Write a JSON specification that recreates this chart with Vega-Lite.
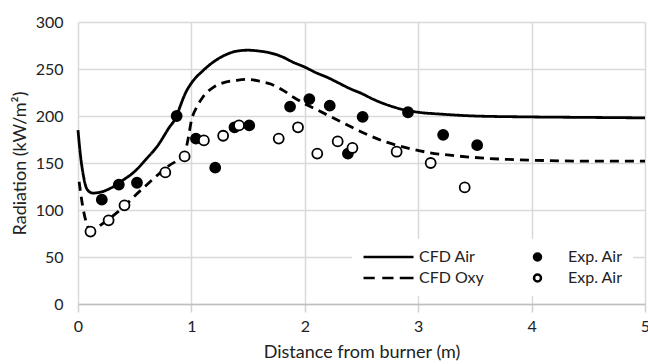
{
  "$schema": "https://vega.github.io/schema/vega-lite/v6.json",
  "width": 567,
  "height": 282,
  "autosize": {"type": "none"},
  "padding": {"left": 78, "top": 22, "right": 3, "bottom": 60},
  "background": "white",
  "config": {
    "view": {"stroke": null},
    "font": "Lato",
    "axis": {"labelFont": "Lato", "titleFont": "Lato", "labelFontSize": 16, "titleFontSize": 18, "labelColor": "#222", "titleColor": "#222", "titleFontWeight": "normal", "gridColor": "#d9d9d9", "gridWidth": 1.5, "domainColor": "#bfbfbf", "domainWidth": 1.5, "tickColor": "#d0d0d0", "tickWidth": 1.5},
    "legend": {"title": null, "orient": "none", "legendX": 274, "legendY": 217, "columns": 2, "clipHeight": 16, "symbolSize": 2500, "symbolStrokeColor": "black", "symbolStrokeWidth": 2.5, "labelOffset": 4, "labelFont": "Lato", "labelFontSize": 16, "labelColor": "#222", "columnPadding": 27, "rowPadding": 5, "padding": 10, "fillColor": "white"}
  },
  "datasets": {
    "cfd": [
      {"series": "CFD Air", "x": 0.0, "y": 185},
      {"series": "CFD Air", "x": 0.02, "y": 160},
      {"series": "CFD Air", "x": 0.05, "y": 135},
      {"series": "CFD Air", "x": 0.08, "y": 122},
      {"series": "CFD Air", "x": 0.13, "y": 118},
      {"series": "CFD Air", "x": 0.2, "y": 119},
      {"series": "CFD Air", "x": 0.3, "y": 124},
      {"series": "CFD Air", "x": 0.4, "y": 132},
      {"series": "CFD Air", "x": 0.5, "y": 141},
      {"series": "CFD Air", "x": 0.6, "y": 154},
      {"series": "CFD Air", "x": 0.7, "y": 168},
      {"series": "CFD Air", "x": 0.8, "y": 187},
      {"series": "CFD Air", "x": 0.87, "y": 200},
      {"series": "CFD Air", "x": 0.9, "y": 210},
      {"series": "CFD Air", "x": 0.95, "y": 225},
      {"series": "CFD Air", "x": 1.0, "y": 235},
      {"series": "CFD Air", "x": 1.1, "y": 248},
      {"series": "CFD Air", "x": 1.2, "y": 258},
      {"series": "CFD Air", "x": 1.3, "y": 265},
      {"series": "CFD Air", "x": 1.4, "y": 269},
      {"series": "CFD Air", "x": 1.5, "y": 270},
      {"series": "CFD Air", "x": 1.6, "y": 269},
      {"series": "CFD Air", "x": 1.7, "y": 267},
      {"series": "CFD Air", "x": 1.8, "y": 263},
      {"series": "CFD Air", "x": 1.9, "y": 257},
      {"series": "CFD Air", "x": 2.0, "y": 252},
      {"series": "CFD Air", "x": 2.1, "y": 246},
      {"series": "CFD Air", "x": 2.2, "y": 241},
      {"series": "CFD Air", "x": 2.3, "y": 235},
      {"series": "CFD Air", "x": 2.4, "y": 229},
      {"series": "CFD Air", "x": 2.5, "y": 224},
      {"series": "CFD Air", "x": 2.6, "y": 218},
      {"series": "CFD Air", "x": 2.7, "y": 213},
      {"series": "CFD Air", "x": 2.8, "y": 209},
      {"series": "CFD Air", "x": 2.9, "y": 206},
      {"series": "CFD Air", "x": 3.0, "y": 204},
      {"series": "CFD Air", "x": 3.2, "y": 202},
      {"series": "CFD Air", "x": 3.5, "y": 200},
      {"series": "CFD Air", "x": 4.0, "y": 199},
      {"series": "CFD Air", "x": 4.5, "y": 198.5},
      {"series": "CFD Air", "x": 5.0, "y": 198},
      {"series": "CFD Oxy", "x": 0.01, "y": 130},
      {"series": "CFD Oxy", "x": 0.04, "y": 105},
      {"series": "CFD Oxy", "x": 0.07, "y": 88},
      {"series": "CFD Oxy", "x": 0.1, "y": 80},
      {"series": "CFD Oxy", "x": 0.15, "y": 80},
      {"series": "CFD Oxy", "x": 0.2, "y": 84},
      {"series": "CFD Oxy", "x": 0.3, "y": 93},
      {"series": "CFD Oxy", "x": 0.4, "y": 103},
      {"series": "CFD Oxy", "x": 0.5, "y": 115},
      {"series": "CFD Oxy", "x": 0.6, "y": 126},
      {"series": "CFD Oxy", "x": 0.7, "y": 137},
      {"series": "CFD Oxy", "x": 0.8, "y": 147},
      {"series": "CFD Oxy", "x": 0.9, "y": 155},
      {"series": "CFD Oxy", "x": 0.94, "y": 160},
      {"series": "CFD Oxy", "x": 0.97, "y": 175},
      {"series": "CFD Oxy", "x": 1.0, "y": 195},
      {"series": "CFD Oxy", "x": 1.05, "y": 210},
      {"series": "CFD Oxy", "x": 1.1, "y": 220},
      {"series": "CFD Oxy", "x": 1.2, "y": 231},
      {"series": "CFD Oxy", "x": 1.3, "y": 236},
      {"series": "CFD Oxy", "x": 1.4, "y": 238},
      {"series": "CFD Oxy", "x": 1.5, "y": 239},
      {"series": "CFD Oxy", "x": 1.6, "y": 237},
      {"series": "CFD Oxy", "x": 1.7, "y": 234},
      {"series": "CFD Oxy", "x": 1.8, "y": 228},
      {"series": "CFD Oxy", "x": 1.9, "y": 220},
      {"series": "CFD Oxy", "x": 2.0, "y": 213},
      {"series": "CFD Oxy", "x": 2.1, "y": 207},
      {"series": "CFD Oxy", "x": 2.2, "y": 201},
      {"series": "CFD Oxy", "x": 2.3, "y": 195},
      {"series": "CFD Oxy", "x": 2.5, "y": 183},
      {"series": "CFD Oxy", "x": 2.7, "y": 173},
      {"series": "CFD Oxy", "x": 2.9, "y": 166},
      {"series": "CFD Oxy", "x": 3.1, "y": 161},
      {"series": "CFD Oxy", "x": 3.3, "y": 158},
      {"series": "CFD Oxy", "x": 3.6, "y": 155},
      {"series": "CFD Oxy", "x": 4.0, "y": 153},
      {"series": "CFD Oxy", "x": 4.5, "y": 152},
      {"series": "CFD Oxy", "x": 5.0, "y": 152}
    ],
    "exp": [
      {"series": "Exp. Air", "x": 0.21, "y": 111},
      {"series": "Exp. Air", "x": 0.36, "y": 127},
      {"series": "Exp. Air", "x": 0.52, "y": 129},
      {"series": "Exp. Air", "x": 0.87, "y": 200},
      {"series": "Exp. Air", "x": 1.04, "y": 176},
      {"series": "Exp. Air", "x": 1.21, "y": 145},
      {"series": "Exp. Air", "x": 1.38, "y": 188},
      {"series": "Exp. Air", "x": 1.51, "y": 190},
      {"series": "Exp. Air", "x": 1.87, "y": 210},
      {"series": "Exp. Air", "x": 2.04, "y": 218},
      {"series": "Exp. Air", "x": 2.22, "y": 211},
      {"series": "Exp. Air", "x": 2.38, "y": 160},
      {"series": "Exp. Air", "x": 2.51, "y": 199},
      {"series": "Exp. Air", "x": 2.91, "y": 204},
      {"series": "Exp. Air", "x": 3.22, "y": 180},
      {"series": "Exp. Air", "x": 3.52, "y": 169},
      {"series": "Exp. Oxy", "x": 0.11, "y": 77},
      {"series": "Exp. Oxy", "x": 0.27, "y": 89},
      {"series": "Exp. Oxy", "x": 0.41, "y": 105},
      {"series": "Exp. Oxy", "x": 0.77, "y": 140},
      {"series": "Exp. Oxy", "x": 0.94, "y": 157},
      {"series": "Exp. Oxy", "x": 1.11, "y": 174},
      {"series": "Exp. Oxy", "x": 1.28, "y": 179},
      {"series": "Exp. Oxy", "x": 1.42, "y": 190},
      {"series": "Exp. Oxy", "x": 1.77, "y": 176},
      {"series": "Exp. Oxy", "x": 1.94, "y": 188},
      {"series": "Exp. Oxy", "x": 2.11, "y": 160},
      {"series": "Exp. Oxy", "x": 2.29, "y": 173},
      {"series": "Exp. Oxy", "x": 2.42, "y": 166},
      {"series": "Exp. Oxy", "x": 2.81, "y": 162},
      {"series": "Exp. Oxy", "x": 3.11, "y": 150},
      {"series": "Exp. Oxy", "x": 3.41, "y": 124}
    ]
  },
  "encoding": {
    "x": {"field": "x", "type": "quantitative", "scale": {"domain": [0, 5], "nice": false},
      "axis": {"title": "Distance from burner (m)", "values": [0, 1, 2, 3, 4, 5], "tickSize": 8, "labelPadding": 6, "titlePadding": 9, "labelFlush": false}},
    "y": {"field": "y", "type": "quantitative", "scale": {"domain": [0, 300], "nice": false},
      "axis": {"title": "Radiation (kW/m²)", "values": [0, 50, 100, 150, 200, 250, 300], "ticks": false, "labelPadding": 15, "titlePadding": 6, "domain": false}}
  },
  "layer": [
    {
      "data": {"name": "cfd"},
      "mark": {"type": "line", "color": "black", "strokeWidth": 2.8, "interpolate": "monotone"},
      "encoding": {
        "strokeDash": {"field": "series", "type": "nominal", "scale": {"domain": ["CFD Air", "CFD Oxy"], "range": [[1, 0], [9, 6]]}, "legend": null}
      }
    },
    {
      "data": {"name": "exp"},
      "mark": {"type": "point", "filled": false, "strokeWidth": 1.8, "size": 5100, "opacity": 1},
      "encoding": {
        "shape": {"field": "series", "type": "nominal",
          "scale": {"domain": ["CFD Air", "CFD Oxy", "Exp. Air", "Exp. Oxy"],
            "range": ["M-1,0H1", "M-1,0H-0.55M-0.25,0H0.2M0.45,0H1", "M-0.14,0A0.14,0.14,0,1,1,0.14,0A0.14,0.14,0,1,1,-0.14,0Z", "M-0.14,0A0.14,0.14,0,1,1,0.14,0A0.14,0.14,0,1,1,-0.14,0Z"]},
          "legend": {"labelExpr": "datum.label == 'Exp. Oxy' ? 'Exp. Air' : datum.label"}},
        "fill": {"field": "series", "type": "nominal",
          "scale": {"domain": ["CFD Air", "CFD Oxy", "Exp. Air", "Exp. Oxy"], "range": ["transparent", "transparent", "black", "white"]},
          "legend": {"labelExpr": "datum.label == 'Exp. Oxy' ? 'Exp. Air' : datum.label"}},
        "stroke": {"field": "series", "type": "nominal",
          "scale": {"domain": ["CFD Air", "CFD Oxy", "Exp. Air", "Exp. Oxy"], "range": ["black", "black", "black", "black"]},
          "legend": {"labelExpr": "datum.label == 'Exp. Oxy' ? 'Exp. Air' : datum.label"}}
      }
    }
  ]
}
